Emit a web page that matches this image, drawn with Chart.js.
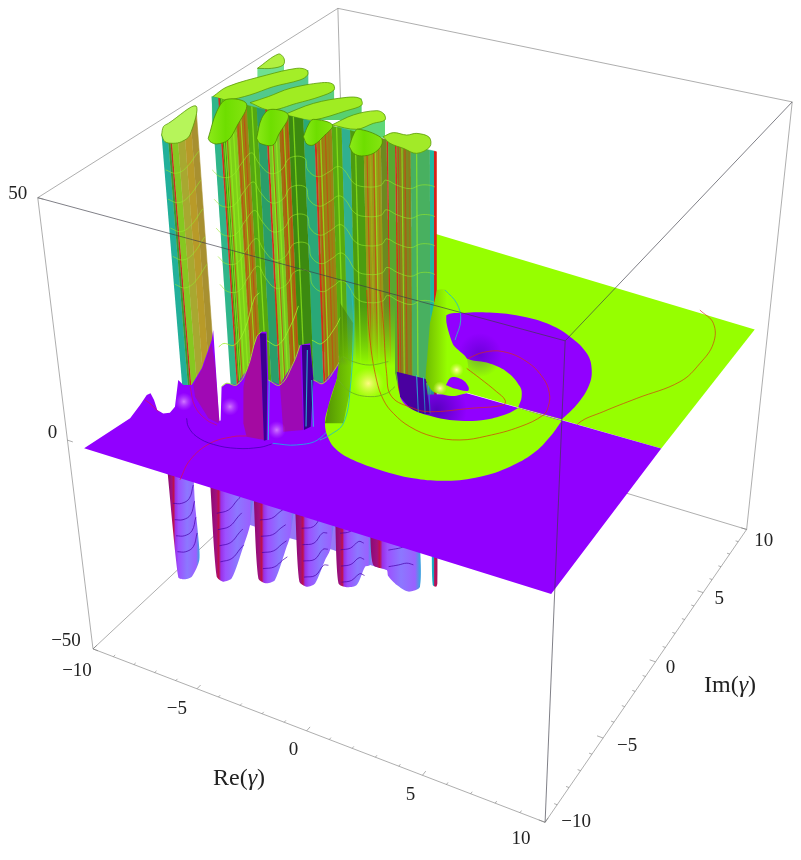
<!DOCTYPE html>
<html><head><meta charset="utf-8"><style>html,body{margin:0;padding:0;background:#fff}canvas{display:block}</style>
<script src="https://cdn.jsdelivr.net/npm/chart.js@4"></script></head>
<body><canvas id="c" width="801" height="860"></canvas>
<script>
// ---------- axis ticks ----------
const reTicks=[-10,-5,0,5,10];
const imTicks=[-10,-5,0,5,10];
const zTicks=[50,0,-50];
const minorTicks=[-9,-8,-7,-6,-4,-3,-2,-1,1,2,3,4,6,7,8,9];
const reTickText=['\u221210','\u22125','0','5','10'];
const imTickText=['\u221210','\u22125','0','5','10'];
const zTickText=['50','0','\u221250'];
// ---------- surface outlines, [Re, Im] ----------
const planeUpper=[[-9.4,0],[9.7,0],[9.7,9.8],[-9.4,11.2]];
const planeFront=[[9.7,0],[9.82,-9.75],[-9.37,-10.13]];
const bandPurple=[[5.57,0.04],[5.64,1.22],[5.50,2.63],[5.10,3.81],[4.40,4.86],[3.25,5.72],[1.95,6.23],[0.71,6.25],[-0.39,5.97],[-1.37,5.45],[-2.04,4.79],[-1.57,3.76],[-0.59,2.79],[0.31,2.25],[1.16,2.34],[2.17,2.11],[3.13,1.37],[3.51,0.75],[3.73,0.01]];
const bandGreen=[[5.61,-0.04],[5.69,-1.24],[5.62,-2.53],[5.24,-3.71],[4.56,-4.80],[3.60,-5.60],[2.45,-6.04],[1.11,-6.15],[-0.08,-6.06],[-0.96,-5.78],[-1.64,-5.26],[-2.28,-4.45],[-2.77,-3.39],[-3.47,-1.59],[-3.74,-0.61],[-1.98,0.32],[-1.68,-0.08],[-0.67,-1.47],[0.08,-2.01],[1.15,-2.10],[2.18,-1.87],[3.04,-1.31],[3.55,-0.62],[3.75,-0.03]];
const funnel=[[-3.41,-1.70],[-4.38,0.20],[-6.43,3.64],[-4.39,4.72],[-1.68,-0.08],[-0.67,-1.47],[-2.27,-2.33]];
const funnelShade=[[-2.28,-4.45],[-2.77,-3.39],[-3.47,-1.59],[-4.38,0.2],[-6.43,3.64],[-5.10,2.48],[-2.63,-1.97],[-1.66,-4.12]];
const skirt=[[-9.37,-10.13],[-9.05,-7.66],[-9.26,-6.72],[-9.45,-6.01],[-9.39,-5.84],[-8.99,-6.17],[-8.47,-6.69],[-8.13,-6.78],[-7.93,-6.62],[-8.00,-6.18],[-8.99,-4.53],[-8.60,-4.74],[-8.32,-4.58],[-8.66,-3.37],[-9.53,-1.37],[-9.92,-0.68],[-5.94,-6.19],[-5.90,-6.16],[-7.21,-4.13],[-7.17,-3.83],[-6.75,-3.75],[-7.01,-2.63],[-8.05,-0.29],[-8.09,0.14],[-7.91,0.24],[-5.85,-2.86],[-5.25,-2.95],[-5.64,-1.34],[-6.14,-0.01],[-5.85,0.29],[-4.28,-2.02],[-3.81,-2.05],[-3.98,-0.74],[-4.19,0.01],[-1.59,-1.96],[1.51,-0.04]];
const well1=[[-8.08,0],[-7.86,0.11],[-5.89,-2.88],[-3.63,-6.45],[-3.70,-6.54],[-6.08,-2.98]];
const well2=[[-6.08,0.02],[-5.79,0.18],[-4.28,-2.02],[-2.64,-4.90],[-2.75,-5.21],[-4.65,-2.22]];
const tex1=[[-7.72,-5.22],[-6.40,-6.25],[-5.87,-6.36],[-5.97,-6.15],[-8.41,-2.81],[-9.39,-1.59],[-8.68,-3.24],[-8.26,-4.55]];
const tex2=[[-6.45,-3.73],[-7.01,-2.63],[-8.05,-0.29],[-8.08,0],[-3.72,-6.50],[-4.42,-6.62],[-5.03,-5.91]];
const tex3=[[-5.25,-2.95],[-5.64,-1.34],[-6.14,-0.01],[-2.77,-5.23],[-3.38,-5.68]];
const wellR=[[-1.68,0.06],[-0.22,0.14],[-0.24,-0.15],[0.95,-2.00],[0.61,-2.18],[0.08,-2.01],[-0.67,-1.47]];
const spike=[[-2.31,3.97],[-1.15,1.62],[-0.36,0.06],[0.30,-0.55],[1.14,-0.46],[1.49,0],[1.42,0.32],[0.31,2.25],[-0.65,2.91],[-1.70,4.29],[-3.03,6.72],[-3.37,6.54]];
const eye=[[0.51,0.11],[0.44,0.71],[0.86,0.77],[1.34,0.42],[1.47,0.13],[0.88,0.03]];
// contour curves on the sheet
const red1=[[0.36,2.28],[0.69,2.98],[1.37,3.40],[2.54,3.16],[3.67,2.35],[4.36,1.47],[4.73,0.60],[4.82,-0.02],[4.39,-1.16],[3.56,-2.32],[2.79,-3.03],[1.80,-3.30],[0.69,-3.13],[-0.32,-2.62],[-1.12,-1.98],[-2.08,-0.85],[-3.83,1.66],[-6.01,5.14]];
const red2=[[0.66,1.58],[1.47,1.17],[2.49,0.61],[3.05,0.23],[3.15,-0.11],[2.12,-0.93],[0.87,-1.86],[0.19,-1.95],[-0.96,-1.62],[-1.97,-0.24],[-4.01,3.07],[-5.51,5.40]];
const red3=[[7.12,10.21],[8.02,9.46],[8.61,7.98],[8.71,6.29],[8.53,4.65],[7.51,2.74],[6.75,1.27],[6.25,0.09],[6.48,-0.56],[7.12,-1.48],[7.95,-2.99],[8.47,-4.37],[8.77,-5.77],[8.70,-6.94],[8.51,-8.14],[8.24,-8.92],[8.06,-9.71]];
const red4=[[-5.03,-10.14],[-5.43,-8.90],[-5.39,-7.64],[-4.87,-6.85],[-4.45,-6.58]];
const red5=[[-9.30,-6.33],[-8.87,-6.50],[-8.36,-6.77]];
const red6=[[-8.30,-4.71],[-7.32,-5.81],[-6.39,-6.38],[-5.86,-6.49]];
const darkArc=[[-7.14,-6.64],[-6.75,-7.09],[-6.09,-7.50],[-5.24,-7.64],[-4.32,-7.45],[-3.59,-6.98],[-3.32,-6.59]];
const cyan1=[[-3.31,-6.53],[-2.46,-6.20],[-1.92,-5.41],[-2.24,-3.64],[-3.24,-1.47],[-4.12,-0.10]];
const cyanF=[[-1.86,-5.51],[-1.70,-5.04],[-1.66,-4.12],[-2.63,-1.97],[-5.10,2.48],[-6.57,4.84]];
const cyan2=[[-3.07,6.70],[-2.10,5.94],[-1.31,4.80],[-0.77,3.28]];
const greenF1=[[-3.41,-1.56],[-2.57,-2.08],[-1.70,-2.02],[-1.25,-1.51],[-1.20,-0.93]];
const greenF2=[[-4.13,0.04],[-3.58,-0.10],[-2.87,-0.01],[-2.35,0.56]];
const cyanSkirt=[[[-5.82,-2.84],[-3.58,-6.42]],[[-5.68,-0.20],[-2.80,-4.98]],[[-4.34,-2.05],[-2.55,-4.85]]];
const cyanWell=[[[-0.86,0.21],[0.53,-2.17]],[[-0.54,0.19],[0.76,-2.05]],[[-0.28,0.11],[0.93,-1.96]]];
// outlines at the z = 50 clip
const finTop=[
 [[-9.60,3.08],[-9.63,4.68],[-9.20,4.42],[-8.87,3.84],[-9.10,3.35]],
 [[-9.65,-0.01],[-9.67,1.04],[-8.92,2.70],[-8.22,3.81],[-7.79,3.86],[-7.50,3.46],[-7.51,2.91],[-8.09,1.88],[-8.47,0.80],[-8.98,0],[-9.37,-0.03]],
 [[-8.08,0.20],[-7.76,1.00],[-7.43,2.05],[-6.63,3.08],[-6.18,3.18],[-5.84,2.71],[-6.00,1.93],[-6.47,0.98],[-7.04,-0.01]],
 [[-6.36,-0.15],[-5.90,1.28],[-5.06,2.35],[-4.56,2.51],[-4.19,2.02],[-4.44,1.31],[-5.12,0],[-5.75,-0.17]],
 [[-4.28,-0.05],[-4.02,1.09],[-3.43,1.84],[-3.04,1.71],[-2.74,1.26],[-2.98,0.80],[-3.27,0.06]]];
const finWall=[
 [[-9.60,3.08],[-9.07,2.26],[-8.43,3.15],[-9.20,4.42]],
 [[-9.68,-0.02],[-7.52,-3.23],[-5.76,0.68],[-7.73,3.89]],
 [[-8.05,0.15],[-6.61,-0.45],[-4.89,1.13],[-6.08,3.12]],
 [[-5.79,-0.35],[-3.51,0.85],[-4.50,2.54],[-5.06,2.35]],
 [[-4.08,-0.27],[-1.95,-0.12],[-2.96,1.65],[-3.43,1.84]]];
const lastFin=[[-2.08,-0.03],[-1.92,0.45],[-1.38,0.50],[-1.12,0.80],[-0.55,0.72],[-0.15,0.04],[-0.31,-0.68],[-0.94,-0.54],[-1.58,-0.40]];
const lobes=[
 [[-7.72,-3.18],[-8.75,-1.08],[-9.04,0.04],[-8.13,0.04],[-7.35,-1.84],[-6.99,-2.95],[-7.18,-3.43],[-7.50,-3.38]],
 [[-6.14,-2.34],[-6.92,-0.78],[-7.05,0.05],[-6.19,-0.06],[-5.58,-1.72],[-5.30,-2.54],[-5.80,-2.64]],
 [[-4.69,-1.41],[-5.06,-0.46],[-5.15,0.05],[-4.25,-0.04],[-4.04,-1.06],[-3.99,-1.84],[-4.25,-1.88]],
 [[-2.76,-1.34],[-3.13,-0.42],[-3.23,0.09],[-2.13,-0.12],[-1.78,-0.67],[-1.70,-1.41],[-1.97,-1.80],[-2.34,-1.75]]];
const col1Top=[[-9.41,-3.75],[-9.77,-3.12],[-9.77,-2.80],[-9.74,-1.02],[-8.48,-3.26],[-8.43,-3.87],[-8.62,-4.13],[-8.97,-4.16]];
const col1Cuts=[[-9.41,-3.75],[-9.45,-3.32],[-9.47,-3.16],[-9.49,-3.04],[-9.55,-2.58],[-9.61,-2.04],[-9.68,-1.50],[-9.74,-1.02]];
const wave0=[[-9.11,-4.07],[-8.62,-4.13],[-8.53,-3.61],[-8.92,-2.18]];
const wave1=[[-7.58,-3.26],[-7.00,-3.59],[-6.65,-3.34],[-6.92,-2.27],[-7.07,-1.36],[-6.35,-1.97],[-5.53,-2.50],[-5.30,-2.06],[-5.56,-1.06],[-5.07,-0.80],[-4.43,-1.60],[-3.81,-1.90],[-3.65,-1.34],[-3.60,-0.83],[-3.24,-0.96],[-2.34,-1.75],[-1.78,-1.77],[-1.40,-1.41],[-1.46,-0.97],[-0.88,-1.14],[-0.32,-1.15],[-0.14,-0.74],[0.19,-0.57],[0.41,-0.61]];
const uLine=[[[-7.21,-4.13],[-7.17,-3.83],[-6.75,-3.75],[-7.01,-2.63],[-8.05,-0.29],[-8.09,0.14]],[[-5.85,-2.86],[-5.25,-2.95],[-5.64,-1.34],[-6.14,-0.01]],[[-4.28,-2.02],[-3.81,-2.05],[-3.98,-0.74],[-4.19,0.01]]];
// the long wall along Im ~ 0
const wallRe=[-9.69,-9.38,-9.30,-9.14,-8.60,-8.06,-7.60,-7.21,-7.12,-6.62,-6.17,-5.49,-5.02,-4.93,-4.24,-3.80,-3.43,-2.85,-2.10,-1.85,-1.79,-1.49,-1.42,-0.82,-0.01,0.16,0.25];
const wallIm=[-0.03,-0.03,-0.03,-0.04,-0.05,-0.06,-0.07,-0.07,-0.08,-0.09,-0.10,-0.11,-0.12,-0.12,-0.13,-0.14,-0.15,-0.16,-0.18,-0.18,-0.18,-0.19,-0.19,-0.20,-0.22,-0.22,-0.22];
const wallColor=['#2fb68a','#d0301a','#3a9a10','#7ed018','#9c8414','#55a810','#2a9e6a','#d0301a','#78c820','#987410','#3c8a10','#2aa878','#d0301a','#968614','#58aa10','#30b090','#4c9c10','#989818','#6c8a20','#d0301a','#58a830','#d0301a','#7c8a20','#48b060','#20b8a0','#d8201a'];
const col1Color=['#22b09a','#3d9a30','#c8301c','#86c820','#a8a830','#b89a28','#a89030'];
const limeRe=[-9.22,-8.96,-8.76,-8.37,-7.83,-6.97,-6.77,-6.39,-5.94,-4.75,-4.02,-3.21,-2.56,-2.35,-1.20,-0.57];
const limeIm=[-0.03,-0.04,-0.04,-0.05,-0.06,-0.08,-0.08,-0.09,-0.10,-0.12,-0.14,-0.15,-0.17,-0.17,-0.19,-0.21];
const redRe=[-9.07,-8.52,-8.22,-6.92,-6.47,-6.24,-4.83,-4.53,-2.71,-2.42,-1.35,-1.06];
const redIm=[-0.04,-0.05,-0.05,-0.08,-0.09,-0.09,-0.12,-0.13,-0.16,-0.17,-0.19,-0.20];
const oliveRe=[-8.5,-8.4,-8.28,-8.15,-6.55,-6.45,-6.3,-6.2,-4.85,-4.7,-4.55,-4.4,-2.75,-2.6,-2.45,-2.25,-1.3,-1.15,-0.95];
// the part below the sheet, outlines at z = -50
const lowerBack=[[-12.69,2.08],[-9.21,0.05],[-7.14,0.05],[-5.04,0.22],[-3.11,0.06],[-2.31,0.09],[-1.06,0.76],[-2.08,2.61],[-9.05,2.55]];
const lowerCols=[
 [[-14.86,1.82],[-9.87,-4.51],[-9.60,-4.52],[-9.39,-4.20],[-9.76,-3.09],[-10.74,-1.73],[-12.27,0.26],[-13.81,2.38]],
 [[-12.69,2.08],[-8.46,-3.70],[-8.02,-3.86],[-7.83,-3.50],[-8.61,-1.41],[-9.21,0.05],[-10.50,2.36]],
 [[-10.52,2.35],[-6.83,-2.97],[-6.34,-3.09],[-6.15,-2.73],[-6.95,-0.52],[-7.20,0.15],[-8.32,2.36]],
 [[-8.32,2.36],[-5.18,-2.34],[-4.73,-2.49],[-4.53,-2.13],[-4.99,-0.55],[-5.17,0.16],[-6.35,2.55]],
 [[-6.35,2.55],[-3.66,-1.66],[-3.22,-1.73],[-2.92,-1.40],[-3.24,-0.14],[-3.11,0.06],[-4.42,2.46]],
 [[-4.49,2.43],[-2.99,0.12],[-2.31,0.09],[-2.05,-0.24],[-1.43,-0.60],[-0.78,-0.76],[-0.51,-0.24],[-2.08,2.61]],
 [[-1.46,2.54],[-0.09,0.11],[0.09,0.08],[0.03,0.30],[-1.16,2.51]]];
const lowerArcs=[
 [[-8.77,-5.83],[-8.47,-5.67],[-8.39,-5.24],[-8.78,-4.39]],
 [[-6.84,-5.57],[-6.55,-5.16],[-6.61,-4.42],[-6.62,-4.16]],
 [[-5.07,-5.13],[-4.72,-4.82],[-4.66,-4.28],[-4.61,-4.00]],
 [[-3.31,-4.82],[-2.96,-4.51],[-3.01,-3.79],[-2.84,-3.69]],
 [[-1.80,-4.39],[-1.51,-4.11],[-1.44,-3.58],[-1.21,-3.58]],
 [[0.42,-4.44],[0.71,-4.16],[0.94,-3.91],[1.22,-3.88]]];
const arcLevels=[-25,-29,-33,-37];
const waveLevels=[44,38,32,26,20];
// glints on the sheet
const glints=[[-7.90,-5.72],[-6.12,-5.18],[-3.66,-5.70]];
const glintBig=[-2.24,-1.22];
const glintEye=[[0.42,-0.21],[0.36,1.29]];
const shadeUpper=[0.66,2.73];
const shadeLower=[1.04,-1.63];

// ---------- cameras: the surface tracing one, and the box one ----------
const boxCorners=[[-10,-10,50,38,197],[-10,10,50,338,8],[10,10,50,792,102],[10,-10,50,565,342],[-10,-10,-50,93,648],[10,-10,-50,545,823],[10,10,-50,747,528],[-10,10,-50,349,411]];
const sheetCorners=[[-10,-10,0,84,448],[10,-10,0,549,594],[10,10,0,755,328]];
function solveCamera(pts){const A=[],B=[];for(const [X,Y,Z,x,y] of pts){A.push([X,Y,Z,1,0,0,0,0,-x*X,-x*Y,-x*Z]);B.push(x);A.push([0,0,0,0,X,Y,Z,1,-y*X,-y*Y,-y*Z]);B.push(y);}
 const n=11,M=[];for(let i=0;i<n;i++){M.push(new Array(n+1).fill(0));for(let k=0;k<A.length;k++){for(let j=0;j<n;j++)M[i][j]+=A[k][i]*A[k][j];M[i][n]+=A[k][i]*B[k];}}
 for(let i=0;i<n;i++){let p=i;for(let r=i;r<n;r++)if(Math.abs(M[r][i])>Math.abs(M[p][i]))p=r;[M[i],M[p]]=[M[p],M[i]];for(let r=0;r<n;r++)if(r!=i){const f=M[r][i]/M[i][i];for(let j=i;j<=n;j++)M[r][j]-=f*M[i][j];}}
 return M.map((r,i)=>r[n]/r[i]);}
const P=solveCamera(boxCorners.concat(sheetCorners));
const Q=solveCamera(boxCorners);
function viaCam(C,X,Y,Z){const w=C[8]*X+C[9]*Y+C[10]*Z+1;return{x:(C[0]*X+C[1]*Y+C[2]*Z+C[3])/w,y:(C[4]*X+C[5]*Y+C[6]*Z+C[7])/w};}
const proj=(X,Y,Z)=>viaCam(P,X,Y,Z);
const projBox=(X,Y,Z)=>viaCam(Q,X,Y,Z);

// ---------- dataset builders ----------
const gctx=document.createElement('canvas').getContext('2d');
const ds=[];
function add(o){ds.push(Object.assign({showLine:true,pointRadius:0,borderWidth:0,tension:0,fill:false,borderColor:'rgba(0,0,0,0)',backgroundColor:'rgba(0,0,0,0)'},o));}
function flat(pts,z){return pts.map(p=>proj(p[0],p[1],z));}
function poly(pts,z,fill,border,bw,smooth){const d=flat(pts,z);if(border)d.push(d[0]);add({data:d,fill:'shape',tension:smooth||0,backgroundColor:fill,borderColor:border||'rgba(0,0,0,0)',borderWidth:border?(bw||1):0});}
function curve(pts,z,color,w){add({data:flat(pts,z),borderColor:color,borderWidth:w||0.8,tension:0.4});}
function seg3(a,b,color,w){add({data:[proj(a[0],a[1],a[2]),proj(b[0],b[1],b[2])],borderColor:color,borderWidth:w||1});}
function boxSeg(a,b,color){add({data:[projBox(a[0],a[1],a[2]),projBox(b[0],b[1],b[2])],borderColor:color,borderWidth:1});}
function hgrad(pts,z,stops){const xs=flat(pts,z).map(p=>p.x);const g=gctx.createLinearGradient(Math.min(...xs),0,Math.max(...xs),0);stops.forEach(s=>g.addColorStop(s[0],s[1]));return g;}
function vgrad(y0,y1,stops){const g=gctx.createLinearGradient(0,y0,0,y1);stops.forEach(s=>g.addColorStop(s[0],s[1]));return g;}
function glow(p,z,r,inner,outer){const c=proj(p[0],p[1],z);const g=gctx.createRadialGradient(c.x,c.y,0,c.x,c.y,r);g.addColorStop(0,inner);g.addColorStop(1,outer);add({data:[c],showLine:false,pointRadius:r,pointBackgroundColor:g,pointBorderWidth:0,pointBorderColor:'rgba(0,0,0,0)'});}

const PURPLE='#9100ff',GREEN='#96ff00',BOX='rgba(120,120,120,0.6)',BOXF='rgba(60,60,70,0.65)';
const zHi=50,zLo=-50,zWall=-15;
// back edges of the box
boxSeg([-10,10,50],[-10,10,-50],BOX);boxSeg([-10,-10,-50],[-10,10,-50],BOX);boxSeg([10,10,-50],[-10,10,-50],BOX);
// below the sheet
poly(lowerBack,zLo,'rgba(125,85,245,0.8)');
lowerCols.forEach((c,i)=>{poly(c,zLo,hgrad(c,zLo,i==6?[[0,'#18b8c8'],[.4,'#18a0c0'],[.5,'#c01050'],[1,'#a01060']]:[[0,'#8a0a70'],[.14,'#a01080'],[.2,'#c01048'],[.25,'#9a30e8'],[.35,'#9c50ff'],[.62,'#8c78ff'],[.9,'#9a60ff'],[1,'#40a0e0']]),null,0,0.25);});
lowerArcs.forEach((a,i)=>arcLevels.slice(0,i==5?2:4).forEach(z=>curve(a,z,'rgba(70,0,170,0.7)',1)));
// the sheet beyond the cut
poly(planeUpper,0,GREEN);
poly(bandPurple,0,PURPLE,null,0,0.4);
glow(shadeUpper,0,22,'rgba(40,0,150,0.35)','rgba(40,0,150,0)');
curve(red3,0,'rgba(215,40,20,0.8)',0.8);
// the fins behind the long wall
const finWallCol=['#6fe090','#52c98c','#5ace80','#58d070','#5fd878'];
const finTopCol=['#b0f040','#a4ee28','#a0ec22','#a0ec22','#a8ee28'];
finTop.forEach((t,i)=>{poly(finWall[i],zHi,finWallCol[i]);poly(t,zHi,finTopCol[i],'#5a9a08',0.8,0.35);});
// column one
for(let i=0;i<col1Cuts.length-1;i++){const a=col1Cuts[i],b=col1Cuts[i+1];const d=[proj(a[0],a[1],zHi),proj(b[0],b[1],zHi),proj(b[0],b[1],zWall),proj(a[0],a[1],zWall)];add({data:d,fill:'shape',backgroundColor:col1Color[i],borderColor:col1Color[i],borderWidth:0.6});}
// the long wall
for(let i=0;i<wallRe.length-1;i++){const c=wallColor[i];const d=[proj(wallRe[i],wallIm[i],zHi),proj(wallRe[i+1],wallIm[i+1],zHi),proj(wallRe[i+1],wallIm[i+1],zWall),proj(wallRe[i],wallIm[i],zWall)];add({data:d,fill:'shape',backgroundColor:c,borderColor:c,borderWidth:0.6});}
limeRe.forEach((r,i)=>seg3([r,limeIm[i],zHi],[r,limeIm[i],zWall],'rgba(150,240,30,0.7)',1.3));
redRe.forEach((r,i)=>seg3([r,redIm[i],zHi],[r,redIm[i],zWall],'rgba(200,60,20,0.7)',1));
oliveRe.forEach(r=>seg3([r,-0.1,zHi],[r,-0.1,zWall],'rgba(190,90,15,0.6)',0.8));
// openings at the clip
poly(col1Top,zHi,'#b6f55a','#5a9a08',0.8,0.35);
lobes.forEach(l=>poly(l,zHi,hgrad(l,zHi,[[0,'#8cea18'],[.45,'#6ede00'],[1,'#84e410']]),'#4f8a00',0.8,0.35));
poly(lastFin,zHi,'#a2ea28','#5a9a08',0.8,0.35);
// height lines on the walls
waveLevels.forEach(z=>{curve(wave0,z,'rgba(150,235,40,0.65)',0.9);curve(wave1,z,'rgba(150,235,40,0.65)',0.9);});
uLine.forEach(u=>curve(u,9,'rgba(160,240,40,0.8)',1));
// the sheet in front of the cut, with its skirt round the columns
poly(skirt.concat(planeFront),0,PURPLE);
poly(tex1,0,'rgba(170,15,130,0.6)');poly(tex2,0,'rgba(175,15,110,0.65)');poly(tex3,0,'rgba(165,15,130,0.6)');
poly(well1,0,'#3b0092');poly(well2,0,'#35008a');
cyanSkirt.forEach(s=>curve(s,0,'rgba(40,200,220,0.85)',1.1));
glints.forEach(g=>glow(g,0,9,'rgba(225,150,255,0.8)','rgba(190,80,255,0)'));
uLine.forEach(u=>curve(u,0,'rgba(160,235,40,0.9)',1));
curve(red4,0,'rgba(225,20,60,0.85)',0.8);curve(red5,0,'rgba(225,20,60,0.85)',0.8);curve(red6,0,'rgba(225,20,60,0.7)',0.8);
curve(darkArc,0,'rgba(60,0,170,0.7)',1);
curve(cyan1,0,'rgba(30,170,230,0.9)',1);
// dark well between funnel and spike
poly(wellR,0,'#4a00a0');
cyanWell.forEach(s=>curve(s,0,'rgba(40,190,220,0.85)',1.1));
glow(shadeLower,0,30,'rgba(50,0,150,0.6)','rgba(50,0,150,0)');
// green band and funnel
poly(bandGreen,0,GREEN,null,0,0.4);
poly(funnel,0,vgrad(303,366,[[0,'rgba(120,200,0,0)'],[1,'rgba(150,255,0,1)']]));
{const g=gctx.createLinearGradient(325,0,372,0);g.addColorStop(0,'rgba(60,110,5,0.75)');g.addColorStop(1,'rgba(60,110,5,0)');poly(funnelShade,0,g);}
glow(glintBig,0,16,'rgba(255,250,130,1)','rgba(220,250,60,0)');
// spike and eye
poly(spike,0,hgrad(spike,0,[[0,'#6fbe00'],[.25,'#86dc00'],[.5,GREEN],[1,GREEN]]),null,0,0.2);
poly(eye,0,PURPLE,null,0,0.4);
glintEye.forEach(g=>glow(g,0,7,'rgba(255,255,170,1)','rgba(230,255,80,0)'));
// sheet contours
curve(red1,0,'rgba(215,50,10,0.85)',0.8);curve(red2,0,'rgba(215,50,10,0.85)',0.8);
curve(cyanF,0,'rgba(40,190,190,0.9)',1);curve(cyan2,0,'rgba(40,190,190,0.9)',1);
curve(greenF1,0,'rgba(110,180,30,0.9)',1);curve(greenF2,0,'rgba(110,180,30,0.9)',1);
// front edges of the box
boxSeg([-10,-10,50],[-10,10,50],BOX);boxSeg([-10,10,50],[10,10,50],BOX);
boxSeg([10,10,50],[10,10,-50],BOX);boxSeg([-10,-10,50],[-10,-10,-50],BOX);
boxSeg([-10,-10,-50],[10,-10,-50],BOX);boxSeg([10,-10,-50],[10,10,-50],BOX);
boxSeg([-10,-10,50],[10,-10,50],BOXF);boxSeg([10,-10,50],[10,10,50],BOXF);boxSeg([10,-10,50],[10,-10,-50],BOXF);
// tick marks
reTicks.forEach(t=>boxSeg([t,-10,-50],[t,-9.75,-50],BOX));imTicks.forEach(t=>boxSeg([10,t,-50],[9.75,t,-50],BOX));
minorTicks.forEach(t=>{boxSeg([t,-10,-50],[t,-9.88,-50],BOX);boxSeg([10,t,-50],[9.88,t,-50],BOX);});
zTicks.forEach(t=>boxSeg([-10,-10,t],[-9.75,-10,t],BOX));
ds.forEach((d,i)=>{d.order=ds.length-i;});

// ---------- label layout ----------
const reOff=[[-16,22],[-20,20],[-13,19],[-12,20],[-24,17]];
const imOff=[[31,0],[24,8],[15,6],[16,6],[17,12]];
const zOff=[[-20,-4],[-15,-7],[-27,-8]];
const labels={id:'labels',afterDatasetsDraw(ch){const c=ch.ctx,sx=ch.scales.x,sy=ch.scales.y;c.save();c.fillStyle='#222';c.textAlign='center';c.textBaseline='middle';c.font='19px "Liberation Serif"';
 const put=(w,o,t)=>{const p=projBox(w[0],w[1],w[2]);c.fillText(t,sx.getPixelForValue(p.x)+o[0],sy.getPixelForValue(p.y)+o[1]);};
 reTicks.forEach((t,i)=>put([t,-10,-50],reOff[i],reTickText[i]));
 imTicks.forEach((t,i)=>put([10,t,-50],imOff[i],imTickText[i]));
 zTicks.forEach((t,i)=>put([-10,-10,t],zOff[i],zTickText[i]));
 const run=(x,y,a,g,b)=>{c.textAlign='left';c.font='24px "Liberation Serif"';c.fillText(a,x,y);let X=x+c.measureText(a).width;c.font='italic 24px "Liberation Serif"';c.fillText(g,X,y);X+=c.measureText(g).width;c.font='24px "Liberation Serif"';c.fillText(b,X,y);};
 run(213,779,'Re(','\u03b3',')');run(704,686,'Im(','\u03b3',')');c.restore();}};
new Chart(document.getElementById('c'),{type:'scatter',data:{datasets:ds},plugins:[labels],options:{responsive:false,animation:false,events:[],layout:{padding:0,autoPadding:false},
 plugins:{legend:{display:false},tooltip:{enabled:false}},
 scales:{x:{type:'linear',min:0,max:801,display:false},y:{type:'linear',min:0,max:860,reverse:true,display:false}}}});
</script></body></html>
